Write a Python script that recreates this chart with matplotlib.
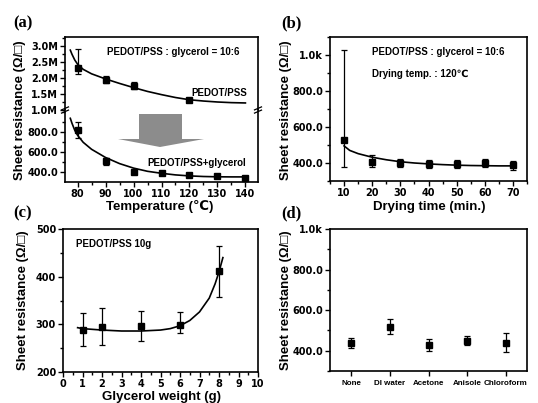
import numpy as np
import matplotlib
matplotlib.use("Agg")
import matplotlib.pyplot as plt
from matplotlib.ticker import FuncFormatter, MultipleLocator, AutoMinorLocator
from matplotlib.patches import Polygon
from matplotlib.lines import Line2D

plt.rcParams["font.family"] = ["Liberation Sans", "DejaVu Sans"]
plt.rcParams["font.weight"] = "bold"

# ---- (a) sheet resistance vs drying temperature ----
temp_pss = [80, 90, 100, 120]
rs_pss = [2.32e6, 1.95e6, 1.76e6, 1.31e6]
rs_pss_lo = [0.20e6, 0.12e6, 0.11e6, 0.02e6]
rs_pss_hi = [0.60e6, 0.12e6, 0.11e6, 0.02e6]
fit_pss_x = [77.4, 78, 79, 80, 82, 85, 90, 95, 100, 105, 110, 115, 120, 125, 130, 135, 140]
fit_pss_y = [2.87e6, 2.74e6, 2.56e6, 2.43e6, 2.27e6, 2.13e6, 1.97e6, 1.83e6, 1.70e6,
             1.58e6, 1.48e6, 1.39e6, 1.32e6, 1.28e6, 1.25e6, 1.23e6, 1.22e6]

temp_gly = [80, 90, 100, 110, 120, 130, 140]
rs_gly = [825, 512, 408, 398, 370, 362, 345]
rs_gly_err = [80, 35, 15, 15, 10, 8, 8]
fit_gly_x = [77.4, 78, 79, 80, 82, 85, 90, 95, 100, 105, 110, 115, 120, 125, 130, 135, 140]
fit_gly_y = [940, 890, 820, 770, 700, 630, 548, 487, 442, 410, 390, 374, 364, 358, 355, 354, 354]

# ---- (b) sheet resistance vs drying time ----
dry_time = [10, 20, 30, 40, 50, 60, 70]
rs_time = [526, 406, 398, 396, 394, 398, 388]
rs_time_lo = [150, 28, 22, 22, 22, 22, 25]
rs_time_hi = [500, 40, 22, 22, 22, 25, 25]
fit_time_x = [10, 12, 15, 20, 25, 30, 35, 40, 45, 50, 55, 60, 65, 70]
fit_time_y = [495, 470, 452, 432, 418, 407, 400, 395, 391, 388, 386, 385, 384, 384]

# ---- (c) sheet resistance vs glycerol weight ----
gly_weight = [1, 2, 4, 6, 8]
rs_weight = [289, 295, 297, 299, 411]
rs_weight_lo = [34, 38, 32, 18, 54]
rs_weight_hi = [34, 40, 31, 26, 54]
fit_weight_x = [0.75, 1, 2, 3, 4, 5, 5.5, 6, 6.5, 7, 7.5, 7.8, 8, 8.2]
fit_weight_y = [293, 291, 288, 286, 286, 288, 291, 297, 308, 326, 355, 385, 410, 440]

# ---- (d) solvent treatment ----
solvents = ["None", "DI water", "Acetone", "Anisole", "Chloroform"]
rs_solvent = [440, 518, 430, 450, 440]
rs_solvent_err = [25, 36, 30, 22, 45]

W, H = 538, 403
fig = plt.figure(figsize=(W / 100, H / 100), dpi=100)


def box(l, t, r, b):
    return [l / W, 1 - b / H, (r - l) / W, (b - t) / H]


def ftext(x, y, s, **kw):
    fig.text(x / W, 1 - y / H, s, **kw)


def style(ax):
    for s in ax.spines.values():
        s.set_linewidth(1.2)
    ax.tick_params(which="both", direction="out", top=False, right=False, width=1.0,
                   labelsize=7, pad=1.5)
    ax.tick_params(which="major", length=3.5)
    ax.tick_params(which="minor", length=2)
    for lab in ax.get_xticklabels() + ax.get_yticklabels():
        lab.set_family("DejaVu Sans")
        lab.set_fontweight("bold")


ERR = dict(fmt="s", color="k", ms=4.8, capsize=2.2, elinewidth=0.9, capthick=0.9)
kfmt = FuncFormatter(lambda v, p: "1.0k" if v >= 1000 else f"{v:.1f}")
LBL = dict(fontsize=9.5, fontweight="bold")
ANN = dict(fontsize=7, fontweight="bold", va="center")
PANEL = dict(fontsize=12, fontweight="bold", family="Liberation Serif", va="center")

# ---------- (a) broken axis ----------
ax_up = fig.add_axes(box(65, 37, 258, 110))
ax_lo = fig.add_axes(box(65, 110, 258, 182), sharex=ax_up)
ax_up.errorbar(temp_pss, rs_pss, yerr=[rs_pss_lo, rs_pss_hi], **ERR)
ax_up.plot(fit_pss_x, fit_pss_y, "k-", lw=1.2)
ax_lo.errorbar(temp_gly, rs_gly, yerr=rs_gly_err, **ERR)
ax_lo.plot(fit_gly_x, fit_gly_y, "k-", lw=1.2)
ax_up.set_xlim(75.5, 144.5)
ax_up.set_ylim(1.0e6, 3.28e6)
ax_lo.set_ylim(303, 1023)
ax_up.yaxis.set_major_locator(MultipleLocator(0.5e6))
ax_up.yaxis.set_minor_locator(AutoMinorLocator(2))
ax_up.yaxis.set_major_formatter(FuncFormatter(lambda v, p: f"{v / 1e6:.1f}M"))
ax_lo.set_yticks([400, 600, 800])
ax_lo.yaxis.set_minor_locator(MultipleLocator(100))
ax_lo.yaxis.set_major_formatter(FuncFormatter(lambda v, p: f"{v:.1f}"))
ax_lo.xaxis.set_major_locator(MultipleLocator(10))
ax_lo.xaxis.set_minor_locator(MultipleLocator(5))
ax_up.spines["bottom"].set_visible(False)
ax_lo.spines["top"].set_visible(False)
style(ax_up)
style(ax_lo)
ax_up.tick_params(axis="x", which="both", bottom=False, labelbottom=False)
# break marks on both side spines
for xb in (65, 258):
    for dy in (-1.6, 1.6):
        fig.add_artist(Line2D([(xb - 3.5) / W, (xb + 3.5) / W],
                              [1 - (110 + dy + 1.5) / H, 1 - (110 + dy - 1.5) / H],
                              color="k", lw=0.9))
arrow = [(139, 114), (182, 114), (182, 139), (204, 139), (160, 147),
         (118, 139), (139, 139)]
fig.add_artist(Polygon([(x / W, 1 - y / H) for x, y in arrow], closed=True,
                       transform=fig.transFigure, facecolor="#8c8c8c", edgecolor="none"))
ftext(107, 52, "PEDOT/PSS : glycerol = 10:6", **ANN)
ftext(191, 93, "PEDOT/PSS", **ANN)
ftext(147, 163, "PEDOT/PSS+glycerol", **ANN)
ftext(160, 207, "Temperature (\u2103)", ha="center", va="center", **LBL)
ftext(20, 110, "Sheet resistance (\u03a9/\u25a1)", rotation=90, ha="center", va="center", **LBL)
ftext(23, 23, "(a)", ha="center", **PANEL)

# ---------- (b) ----------
ax_b = fig.add_axes(box(330, 37, 527, 181))
ax_b.errorbar(dry_time, rs_time, yerr=[rs_time_lo, rs_time_hi], **ERR)
ax_b.plot(fit_time_x, fit_time_y, "k-", lw=1.2)
ax_b.set_xlim(5, 75)
ax_b.set_ylim(300, 1100)
ax_b.set_yticks([400, 600, 800, 1000])
ax_b.yaxis.set_minor_locator(MultipleLocator(100))
ax_b.yaxis.set_major_formatter(kfmt)
ax_b.xaxis.set_major_locator(MultipleLocator(10))
ax_b.xaxis.set_minor_locator(MultipleLocator(5))
style(ax_b)
ftext(372, 52, "PEDOT/PSS : glycerol = 10:6", **ANN)
ftext(372, 74, "Drying temp. : 120\u2103", **ANN)
ftext(429, 207, "Drying time (min.)", ha="center", va="center", **LBL)
ftext(286, 110, "Sheet resistance (\u03a9/\u25a1)", rotation=90, ha="center", va="center", **LBL)
ftext(291, 23, "(b)", ha="center", **PANEL)

# ---------- (c) ----------
ax_c = fig.add_axes(box(63, 229, 258, 372))
ax_c.errorbar(gly_weight, rs_weight, yerr=[rs_weight_lo, rs_weight_hi], **ERR)
ax_c.plot(fit_weight_x, fit_weight_y, "k-", lw=1.2)
ax_c.set_xlim(0, 10)
ax_c.set_ylim(200, 500)
ax_c.xaxis.set_major_locator(MultipleLocator(1))
ax_c.xaxis.set_minor_locator(MultipleLocator(0.5))
ax_c.yaxis.set_major_locator(MultipleLocator(100))
ax_c.yaxis.set_minor_locator(MultipleLocator(50))
style(ax_c)
ftext(76, 244, "PEDOT/PSS 10g", **ANN)
ftext(162, 397, "Glycerol weight (g)", ha="center", va="center", **LBL)
ftext(23, 300, "Sheet resistance (\u03a9/\u25a1)", rotation=90, ha="center", va="center", **LBL)
ftext(23, 213, "(c)", ha="center", **PANEL)

# ---------- (d) ----------
ax_d = fig.add_axes(box(330, 229, 527, 371))
pos = np.arange(1, len(solvents) + 1)
ax_d.errorbar(pos, rs_solvent, yerr=rs_solvent_err, **ERR)
ax_d.set_xlim(0.45, 5.55)
ax_d.set_ylim(300, 1000)
ax_d.set_xticks(pos)
ax_d.set_xticklabels(solvents)
ax_d.set_yticks([400, 600, 800, 1000])
ax_d.yaxis.set_minor_locator(MultipleLocator(100))
ax_d.yaxis.set_major_formatter(kfmt)
style(ax_d)
ax_d.tick_params(axis="x", labelsize=5.8, pad=3)
for lab in ax_d.get_xticklabels():
    lab.set_family("Liberation Sans")
ftext(286, 300, "Sheet resistance (\u03a9/\u25a1)", rotation=90, ha="center", va="center", **LBL)
ftext(291, 213, "(d)", ha="center", **PANEL)

fig.savefig("out.png", dpi=100)
